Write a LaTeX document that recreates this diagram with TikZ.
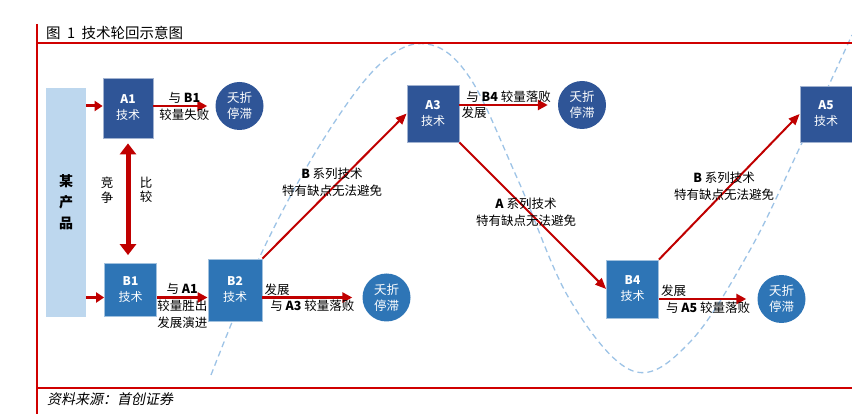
\documentclass[tikz,border=0pt]{standalone}
\usepackage{fontspec}
\setmainfont{Noto Sans CJK SC}
\newfontfamily\cjkslant[FakeSlant=0.2]{Noto Sans CJK SC}
\usetikzlibrary{arrows.meta}

\definecolor{darkblue}{HTML}{2F5597}
\definecolor{midblue}{HTML}{2E75B6}
\definecolor{barblue}{HTML}{BDD7EE}
\definecolor{curveblue}{HTML}{9DC3E6}
\definecolor{arrowred}{HTML}{C00000}
\definecolor{framered}{HTML}{D00000}

\tikzset{
  abox/.style={rectangle, fill=darkblue, draw=white!55!darkblue, line width=0.8pt,
    text=white, minimum width=52pt, minimum height=58pt, align=center,
    font=\fontsize{12}{16}\selectfont},
  bbox/.style={abox, fill=midblue, draw=white!55!midblue},
  adead/.style={circle, fill=darkblue, text=white, minimum size=48pt, inner sep=0pt,
    align=center, font=\fontsize{12.5}{16}\selectfont},
  bdead/.style={adead, fill=midblue},
  note/.style={font=\fontsize{12.5}{17}\selectfont, align=center, inner sep=1.5pt},
  feedarrow/.style={draw=arrowred, line width=3pt, -{Triangle[length=8pt, width=10pt]}},
  deadarrow/.style={draw=arrowred, line width=2.5pt, -{Triangle[length=10pt, width=10pt]}},
  growarrow/.style={draw=arrowred, line width=2pt, -{Triangle[length=11pt, width=9pt]}},
  duelarrow/.style={draw=arrowred, line width=5pt,
    {Triangle[length=11pt, width=16pt]}-{Triangle[length=11pt, width=16pt]}}
}

\begin{document}
\begin{tikzpicture}[x=1pt, y=-1pt]
  % Picture size
  \useasboundingbox (0,0) rectangle (852,414);
  % Dashed cycle curve
  \draw[curveblue, line width=1.3pt, dash pattern=on 6pt off 4pt]
    plot[smooth, tension=0.6] coordinates {(211,375) (263,250) (323,140) (380,64)
      (427,44) (470,78) (518,180) (570,300) (633,371) (690,342) (750,250)
      (800,147) (852,35)};
  % Frame lines
  \draw[framered, line width=1.3pt] (37,24) -- (37,414);
  \draw[framered, line width=1.3pt] (37,43) -- (852,43);
  \draw[framered, line width=1.3pt] (37,388) -- (852,388);
  % Title and source
  \node[anchor=west, inner sep=0pt, font=\fontsize{14.5}{16}\selectfont] (title) at (46,33) {图\ \ 1\ \ 技术轮回示意图};
  \node[anchor=west, inner sep=0pt, font=\cjkslant\fontsize{14}{15}\selectfont] (source) at (47,399) {资料来源：首创证券};
  % Product bar
  \node[fill=barblue, minimum width=40pt, minimum height=229pt, align=center,
    font=\fontsize{14}{21}\selectfont\bfseries] (bar) at (66,202.5) {某\\产\\品};
  % Technology boxes
  \node[abox, minimum width=50pt, minimum height=60pt] (a1) at (128,108) {\textbf{A1}\\技术};
  \node[bbox, minimum height=53pt] (b1) at (130.5,290) {\textbf{B1}\\技术};
  \node[bbox, minimum width=54pt, minimum height=62pt] (b2) at (235,290) {\textbf{B2}\\技术};
  \node[abox, minimum height=57pt] (a3) at (433,113.5) {\textbf{A3}\\技术};
  \node[bbox] (b4) at (632.5,289) {\textbf{B4}\\技术};
  \node[abox, minimum height=56pt] (a5) at (826,114) {\textbf{A5}\\技术};
  % Dead ends
  \node[adead] (c1) at (239.5,106) {夭折\\停滞};
  \node[bdead] (c2) at (386.5,297.5) {夭折\\停滞};
  \node[adead] (c3) at (582,105) {夭折\\停滞};
  \node[bdead] (c4) at (781.5,299) {夭折\\停滞};
  % Product feeds both techs
  \draw[feedarrow] (bar.east |- c1) -- (a1.west |- c1);
  \draw[feedarrow] (bar.east |- c2) -- (b1.west |- c2);
  % Competition between A1 and B1
  \draw[duelarrow, shorten <=5pt, shorten >=8pt] (a1.south) -- (a1.south |- b1.north);
  \node[note, font=\fontsize{12.5}{14.5}\selectfont] (compete) at (107,190) {竞\\争};
  \node[note, font=\fontsize{12.5}{14.5}\selectfont] (compare) at (146,190) {比\\较};
  % Outcomes of each round
  \draw[deadarrow, shorten >=8pt] (a1.east |- c1) -- (c1)
    node[note, midway, above] {与 \textbf{B1}}
    node[note, midway, below] {较量失败};
  \draw[deadarrow] (b1.east |- c2) -- (b2.west |- c2)
    node[note, midway, above] {与 \textbf{A1}}
    node[note, midway, below] {较量胜出\\发展演进};
  \draw[deadarrow, shorten >=10pt] (b2.east |- c2) -- (c2)
    node[note, pos=0, above right, inner sep=1pt] {发展}
    node[note, midway, below] {与 \textbf{A3} 较量落败};
  \draw[deadarrow, shorten >=10pt] (a3.east |- c3) -- (c3)
    node[note, midway, above] {与 \textbf{B4} 较量落败}
    node[note, pos=0, below right, inner sep=1pt] {发展};
  \draw[deadarrow, shorten >=11pt] (b4.east |- c4) -- (c4)
    node[note, pos=0, above right, inner sep=1pt] {发展}
    node[note, midway, below] {与 \textbf{A5} 较量落败};
  % Each generation replaces the last
  \draw[growarrow] (b2.north east) -- (a3.west);
  \draw[growarrow] (a3.south east) -- (b4.west);
  \draw[growarrow] (b4.north east) -- (a5.west);
  \node[note] (bflaw1) at (332,182.5) {\textbf{B} 系列技术\\特有缺点无法避免};
  \node[note] (aflaw) at (526,212.5) {\textbf{A} 系列技术\\特有缺点无法避免};
  \node[note] (bflaw2) at (724,186.5) {\textbf{B} 系列技术\\特有缺点无法避免};
\end{tikzpicture}
\end{document}
